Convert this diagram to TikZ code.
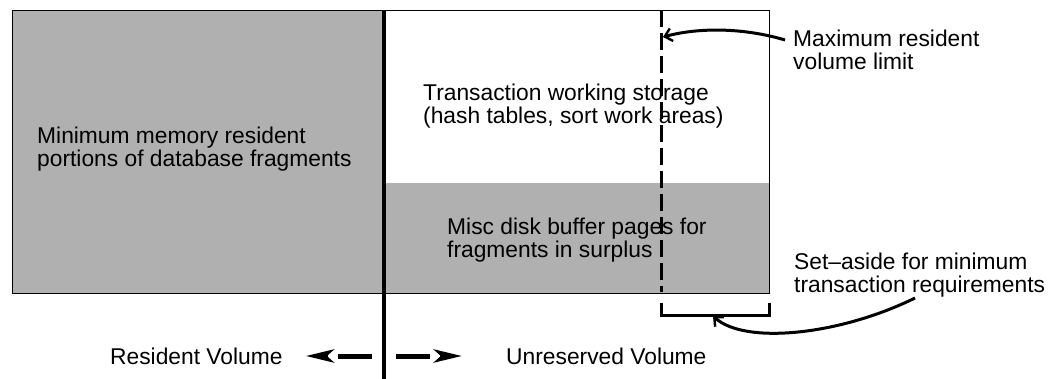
\documentclass[tikz,border=0pt]{standalone}
\usepackage{fontspec}
\setmainfont{Liberation Sans}
\usetikzlibrary{arrows.meta,calc}
\begin{document}
\begin{tikzpicture}[x=1pt,y=-1pt,
  halftone/.style={fill=black!31},
  lbl/.style={inner sep=0pt, anchor=west, align=left, font=\fontsize{22.8}{23.5}\selectfont},
  divider/.style={line width=4pt},
  limitline/.style={line width=3pt, dash pattern=on 17pt off 6pt},
  bracket/.style={line width=3pt},
  pointer/.style={line width=3pt, -{Straight Barb[length=7pt,width=13pt,line width=2.4pt]}},
  volarrow/.style={line width=5pt, dash pattern=on 34pt off 10pt,
                   -{Stealth[length=28pt,width=13pt,inset=7pt]}}]
\useasboundingbox (0,0) rectangle (1056,379);

% shaded memory areas
\fill[halftone] (12,10) rectangle (383,293);
\fill[halftone] (383,183) rectangle (769,293);
\draw[line width=0.8pt] (12,10) rectangle (769,293);

% resident / unreserved divider
\coordinate (divtop) at (384,10);
\coordinate (divbot) at (384,379);
\draw[divider] (divtop) -- (divbot);

% maximum resident volume limit
\coordinate (limtop) at (661,10);
\coordinate (limbot) at (661,292);
\draw[limitline] (limtop) -- (limbot);

% set-aside bracket
\coordinate (brL) at (661,303);
\coordinate (brR) at (769,303);
\draw[bracket] (brL) -- ++(0,12) -| (brR);

% region labels
\node[lbl] (resident) at (37,149) {Minimum memory resident\\portions of database fragments};
\node[lbl] (working) at (423,106) {Transaction working storage\\(hash tables, sort work areas)};
\node[lbl] (misc) at (447,240) {Misc disk buffer pages for\\fragments in surplus};

% side notes
\node[lbl] (maxlbl) at (793,50) {Maximum resident\\volume limit};
\node[lbl] (setlbl) at (794,275) {Set--aside for minimum\\transaction requirements};

\coordinate (limtip) at (663,37);
\coordinate (settip) at (713,316);
\draw[pointer] ($(maxlbl.west)+(-8,-10)$) .. controls (745,28) and (700,27) .. (limtip);
\draw[pointer] ($(setlbl.west)+(121,23)$) .. controls (840,335) and (745,345) .. (settip);

% volume labels
\node[lbl] (resvol) at (110,356) {Resident Volume};
\node[lbl] (unres) at (506,356) {Unreserved Volume};
\draw[volarrow] ($(divbot)+(-12,-23)$) -- ($(resvol.east)+(23,0)$);
\draw[volarrow] ($(divbot)+(12,-23)$) -- ($(unres.west)+(-44,0)$);
\end{tikzpicture}
\end{document}
